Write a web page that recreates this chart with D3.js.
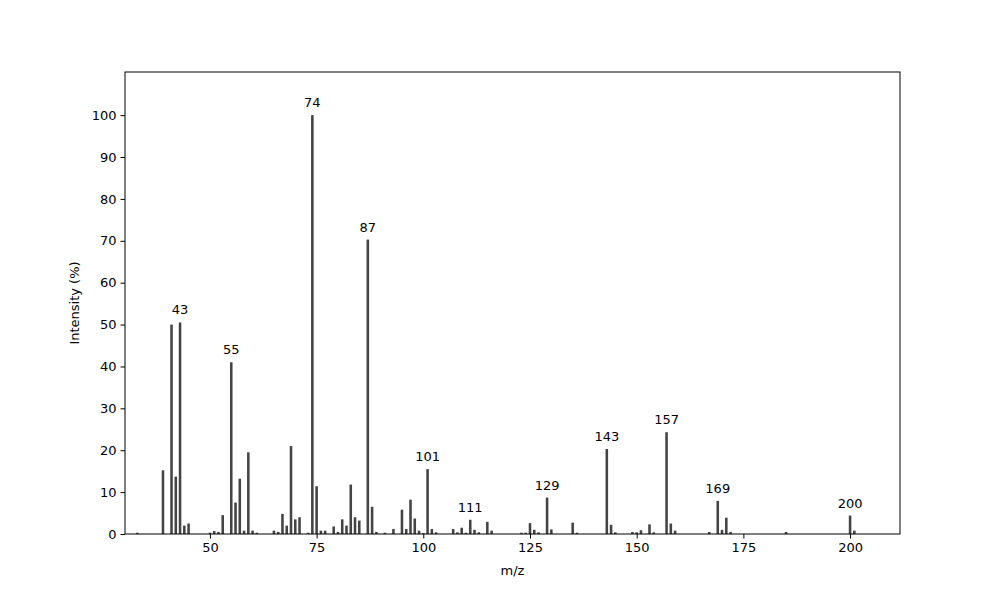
<!DOCTYPE html>
<html><head><meta charset="utf-8">
<script src="https://cdn.jsdelivr.net/npm/d3@7"></script>
<style>body{margin:0;background:#fff}svg{font-family:"DejaVu Sans",sans-serif}</style>
</head><body><svg id="c" width="1000" height="600"></svg>
<script>
const mz = [33,39,41,42,43,44,45,50,51,52,53,55,56,57,58,59,60,61,65,66,67,68,69,70,71,73,74,75,76,77,79,80,81,82,83,84,85,87,88,89,91,93,95,96,97,98,99,100,101,102,103,107,108,109,110,111,112,113,115,116,123,124,125,126,127,129,130,135,136,143,144,145,149,150,151,153,154,157,158,159,167,169,170,171,172,185,200,201];
const intensity = [0.3,15.2,50,13.7,50.5,2,2.5,0.3,0.7,0.5,4.5,41,7.5,13.2,0.8,19.5,0.8,0.3,0.8,0.5,4.8,2,21,3.5,4,0.3,100,11.4,0.8,0.8,1.8,0.5,3.5,2,11.8,4,3.2,70.3,6.5,0.5,0.3,1.2,5.8,1.2,8.2,3.7,0.8,0.2,15.5,1.2,0.4,1.2,0.4,1.5,0.3,3.4,1,0.4,2.9,0.8,0.3,0.3,2.6,1,0.4,8.7,1.1,2.7,0.3,20.3,2.2,0.4,0.5,0.4,0.9,2.3,0.4,24.3,2.5,0.8,0.5,7.9,1,3.9,0.5,0.5,4.4,0.8];
const labeled = [43,55,74,87,101,111,129,143,157,169,200];
const xTicks = [50,75,100,125,150,175,200];
const yTicks = [0,10,20,30,40,50,60,70,80,90,100];

const svg = d3.select("#c");
const L=125,R=900,T=72,B=534;
const x = d3.scaleLinear().domain([30.1,211.7]).range([L,R]);
const y = d3.scaleLinear().domain([0,110.3]).range([B,T]);
const bw = x(0.6)-x(0);
svg.append("g").selectAll("rect").data(mz.map((m,i)=>({m,v:intensity[i]}))).join("rect")
  .attr("x",d=>x(d.m)-bw/2).attr("width",bw)
  .attr("y",d=>y(d.v)).attr("height",d=>B-y(d.v)).attr("fill","#444");
svg.append("g").selectAll("text").data(labeled).join("text")
  .attr("x",m=>x(m)).attr("y",m=>y(intensity[mz.indexOf(m)])-8)
  .attr("text-anchor","middle").attr("font-size",13).text(m=>m);
const gx = svg.append("g").attr("transform",`translate(0,${B})`).call(d3.axisBottom(x).tickValues(xTicks).tickSize(4.5).tickPadding(4));
const gy = svg.append("g").attr("transform",`translate(${L},0)`).call(d3.axisLeft(y).tickValues(yTicks).tickSize(4.5).tickPadding(4));
[gx,gy].forEach(g=>{g.select(".domain").remove();g.selectAll("text").attr("font-size",13).attr("fill","#000").attr("font-family","DejaVu Sans");g.selectAll("line").attr("stroke","#000");});
svg.append("rect").attr("x",L).attr("y",T).attr("width",R-L).attr("height",B-T).attr("fill","none").attr("stroke","#000");
svg.append("text").attr("x",(L+R)/2).attr("y",575).attr("text-anchor","middle").attr("font-size",13).text("m/z");
svg.append("text").attr("transform",`translate(79,${(T+B)/2}) rotate(-90)`).attr("text-anchor","middle").attr("font-size",13).text("Intensity (%)");
</script></body></html>
